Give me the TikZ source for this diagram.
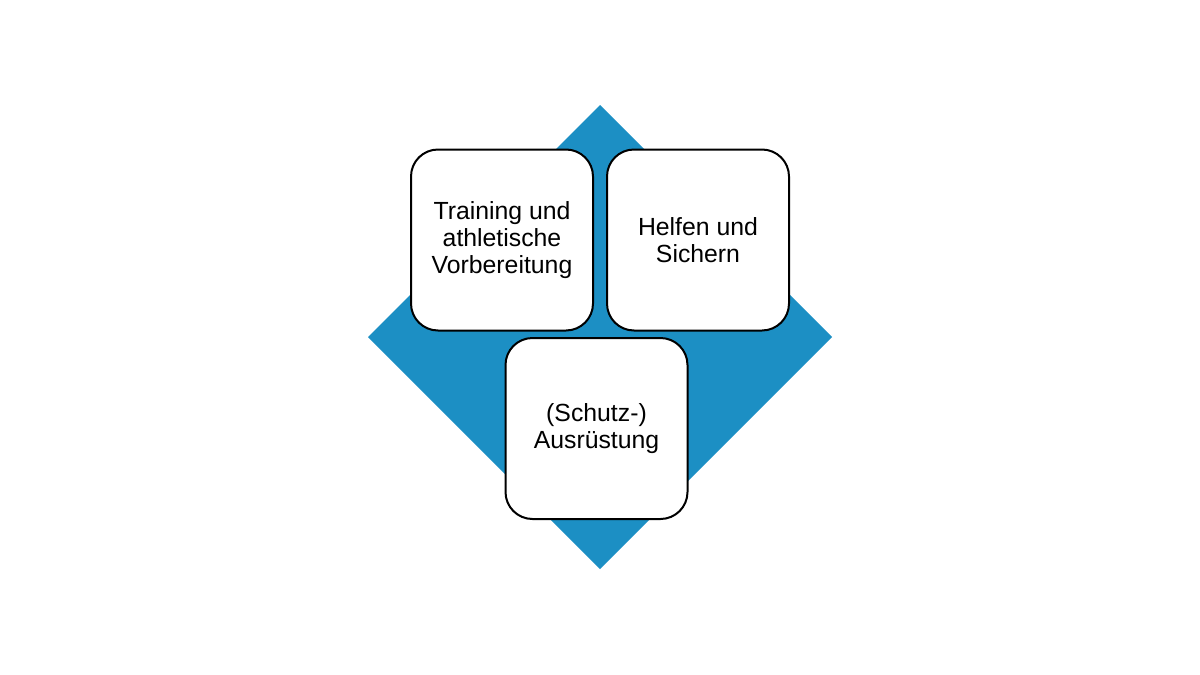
\documentclass[tikz,border=0pt]{standalone}
\usepackage{fontspec}
\setmainfont{Liberation Sans}
\usetikzlibrary{positioning}
\definecolor{diamondblue}{RGB}{28,143,196}
\begin{document}
\begin{tikzpicture}[
		x=0.5pt, y=-0.5pt,
		node distance=6pt,
		block/.style={draw, line width=1pt, fill=white, rounded corners=13.5pt, minimum width=91pt, minimum height=90.5pt, align=center, inner sep=0pt, font=\fontsize{12.4}{13.3}\selectfont},
	]
		\useasboundingbox (0,0) rectangle (1200,675);
		\fill[diamondblue] (600,105) -- (832,337) -- (600,569) -- (368,337) -- cycle;
		
		\node (train) [block] at (502,240) {Training und\\athletische\\Vorbereitung};
		\node (help) [block, right=of train] {Helfen und\\Sichern};
		\node (gear) [block] at (596.5,428.5) {(Schutz-)\\Ausrüstung};
	\end{tikzpicture}
\end{document}
